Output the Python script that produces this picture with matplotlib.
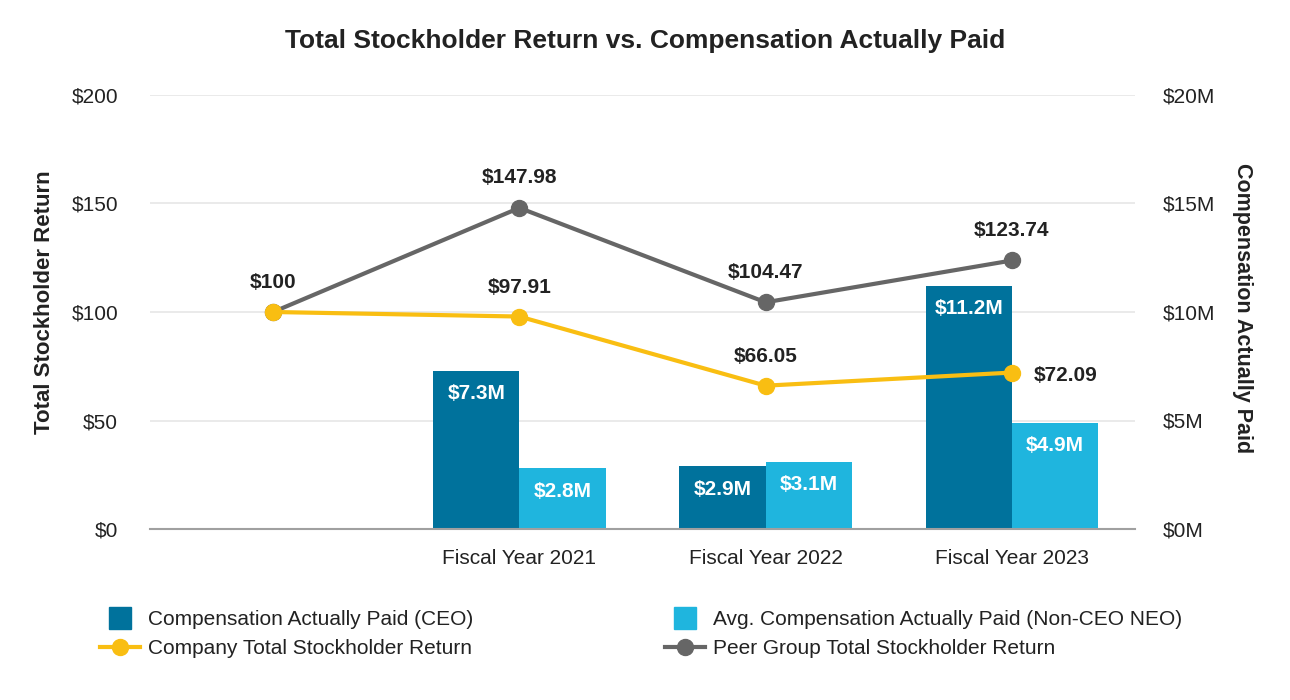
import matplotlib
matplotlib.use("Agg")
import matplotlib.pyplot as plt
import numpy as np
from matplotlib.lines import Line2D

plt.rcParams['font.family'] = ['Liberation Sans', 'DejaVu Sans']

categories = ["", "Fiscal Year 2021", "Fiscal Year 2022", "Fiscal Year 2023"]
ceo_cap = [None, 7.3, 2.9, 11.2]        # $M
neo_cap = [None, 2.8, 3.1, 4.9]         # $M
company_tsr = [100, 97.91, 66.05, 72.09]
peer_tsr = [100, 147.98, 104.47, 123.74]
left_ticks = [0, 50, 100, 150, 200]
right_ticks = [0, 5, 10, 15, 20]

c_ceo = "#00729C"
c_neo = "#1FB5DE"
c_comp = "#F9BE12"
c_peer = "#666666"
c_txt = "#222222"
FS = 15

fig = plt.figure(figsize=(12.9, 7.0), dpi=100)
ax = fig.add_axes([150/1290, 1-529/700, (1135-150)/1290, (529-95)/700])
ax2 = ax.twinx()
ax.set_zorder(ax2.get_zorder() + 1)
ax.patch.set_visible(False)

x = np.arange(len(categories))
w = 0.35
for i in range(len(categories)):
    for vals, off, col in ((ceo_cap, -w/2, c_ceo), (neo_cap, w/2, c_neo)):
        v = vals[i]
        if v is None:
            continue
        ax2.bar(x[i]+off, v, w, color=col, zorder=2)
        ax2.annotate(f"${v}M", (x[i]+off, v), xytext=(0, -23),
                     textcoords="offset pixels", ha="center", va="center",
                     color="white", fontsize=FS, fontweight="bold", zorder=3)

ax2.set_ylim(0, 20)
ax.set_ylim(0, 200)
ax.set_xlim(-0.5, len(categories)-0.5)

ax.plot(x, peer_tsr, color=c_peer, lw=3, marker='o', ms=11.5, zorder=3)
ax.plot(x, company_tsr, color=c_comp, lw=3, marker='o', ms=11.5, zorder=3)

def fmt(v):
    return f"${v:g}" if v == int(v) else f"${v:.2f}"

for i, v in enumerate(peer_tsr):
    ax.annotate(fmt(v), (x[i], v), xytext=(0, 30), textcoords="offset pixels",
                ha="center", va="center", fontsize=FS, fontweight="bold", color=c_txt)
for i, v in enumerate(company_tsr):
    if i == 0:
        continue
    if i == len(company_tsr)-1:
        ax.annotate(fmt(v), (x[i], v), xytext=(22, -3), textcoords="offset pixels",
                    ha="left", va="center", fontsize=FS, fontweight="bold", color=c_txt)
    else:
        ax.annotate(fmt(v), (x[i], v), xytext=(0, 29), textcoords="offset pixels",
                    ha="center", va="center", fontsize=FS, fontweight="bold", color=c_txt)

ax.set_yticks(left_ticks)
ax.set_yticklabels([f"${t}" for t in left_ticks], fontsize=FS, color=c_txt)
ax2.set_yticks(right_ticks)
ax2.set_yticklabels([f"${t}M" for t in right_ticks], fontsize=FS, color=c_txt)
ax.set_xticks(x)
ax.set_xticklabels(categories, fontsize=FS, color=c_txt)
ax.tick_params(axis='both', length=0)
ax2.tick_params(axis='both', length=0)
ax.tick_params(axis='y', pad=23)
ax2.tick_params(axis='y', pad=20)
ax.tick_params(axis='x', pad=14.5)

ax2.grid(axis='y', color="#E8E8E8", lw=1.3, zorder=0)
ax2.set_axisbelow(True)
for a in (ax, ax2):
    for s in a.spines.values():
        s.set_visible(False)
ax.spines['bottom'].set_visible(True)
ax.spines['bottom'].set_color("#A0A0A0")
ax.spines['bottom'].set_linewidth(1.5)

fig.text(45/1290, 1-302/700, "Total Stockholder Return", rotation=90,
         ha="center", va="center", fontsize=16, fontweight="bold", color=c_txt)
fig.text(1243/1290, 1-308/700, "Compensation Actually Paid", rotation=-90,
         ha="center", va="center", fontsize=15.5, fontweight="bold", color=c_txt)

fig.text(645/1290, 1-41/700, "Total Stockholder Return vs. Compensation Actually Paid",
         ha="center", va="center", fontsize=19, fontweight="bold", color=c_txt)

leg_kw = dict(loc="center left", frameon=False, fontsize=FS, handlelength=1.9,
              labelspacing=0.48, handletextpad=0.4, borderpad=0, borderaxespad=0)
h1 = [Line2D([], [], color=c_ceo, marker='s', ls='none', ms=15.5),
      Line2D([], [], color=c_comp, lw=3, marker='o', ms=11.5)]
l1 = ["Compensation Actually Paid (CEO)", "Company Total Stockholder Return"]
h2 = [Line2D([], [], color=c_neo, marker='s', ls='none', ms=15.5),
      Line2D([], [], color=c_peer, lw=3, marker='o', ms=11.5)]
l2 = ["Avg. Compensation Actually Paid (Non-CEO NEO)", "Peer Group Total Stockholder Return"]
leg1 = fig.legend(h1, l1, bbox_to_anchor=(100/1290, 1-634/700), **leg_kw)
leg2 = fig.legend(h2, l2, bbox_to_anchor=(665/1290, 1-634/700), **leg_kw)
for lg in (leg1, leg2):
    for t in lg.get_texts():
        t.set_color(c_txt)

fig.savefig("out.png", dpi=100)
